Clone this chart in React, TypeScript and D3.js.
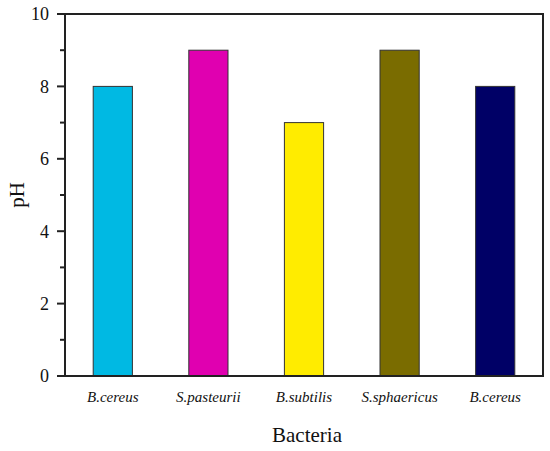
import React from 'react';
import { scaleBand, scaleLinear, range } from 'd3';

const bacteria = ['B.cereus', 'S.pasteurii', 'B.subtilis', 'S.sphaericus', 'B.cereus '];
const phValues = [8, 9, 7, 9, 8];
const barColors = ['#00b9e3', '#e000b0', '#ffec00', '#7a6c00', '#000066'];
const majorTicks = [0, 2, 4, 6, 8, 10];
const minorTicks = [1, 3, 5, 7, 9];

const font = '"Liberation Serif", "Times New Roman", serif';

const App = () => {
    const width = 550;
    const height = 451;
    const margin = { top: 14, right: 7, bottom: 75, left: 65 };
    const plotW = width - margin.left - margin.right;
    const plotH = height - margin.top - margin.bottom;

    const x = scaleBand<string>().domain(bacteria).range([margin.left, margin.left + plotW]).paddingInner(0.59).paddingOuter(0.295);
    const y = scaleLinear().domain([0, 10]).range([margin.top + plotH, margin.top]);

    return (
        <svg width={width} height={height} style={{ position: 'absolute', left: 0, top: 0 }}>
            <rect x={0} y={0} width={width} height={height} fill="white" />
            {bacteria.map((b, i) => (
                <rect key={i} x={x(b)} y={y(phValues[i])} width={x.bandwidth()} height={y(0) - y(phValues[i])}
                    fill={barColors[i]} stroke="#333" strokeWidth={1} />
            ))}
            <rect x={margin.left} y={margin.top} width={plotW} height={plotH} fill="none" stroke="#222" strokeWidth={2} />
            {majorTicks.map(t => (
                <g key={'M' + t} transform={`translate(${margin.left},${y(t)})`}>
                    <line x1={-8} x2={0} stroke="#222" strokeWidth={2} />
                    <text x={-16} dy="0.35em" textAnchor="end" fontFamily={font} fontSize={18} fill="#111">{t}</text>
                </g>
            ))}
            {minorTicks.map(t => (
                <line key={'m' + t} x1={margin.left - 5} x2={margin.left} y1={y(t)} y2={y(t)} stroke="#222" strokeWidth={2} />
            ))}
            {bacteria.map((b, i) => (
                <text key={'l' + i} x={x(b)! + x.bandwidth() / 2} y={402} textAnchor="middle" fontFamily={font}
                    fontStyle="italic" fontSize={15} fill="#111">{b.trim()}</text>
            ))}
            <text x={307} y={442} textAnchor="middle" fontFamily={font} fontSize={21} fill="#111">Bacteria</text>
            <text transform={`translate(24,${margin.top + plotH / 2}) rotate(-90)`} textAnchor="middle"
                fontFamily={font} fontSize={21} fill="#111">pH</text>
        </svg>
    );
};

export default App;
